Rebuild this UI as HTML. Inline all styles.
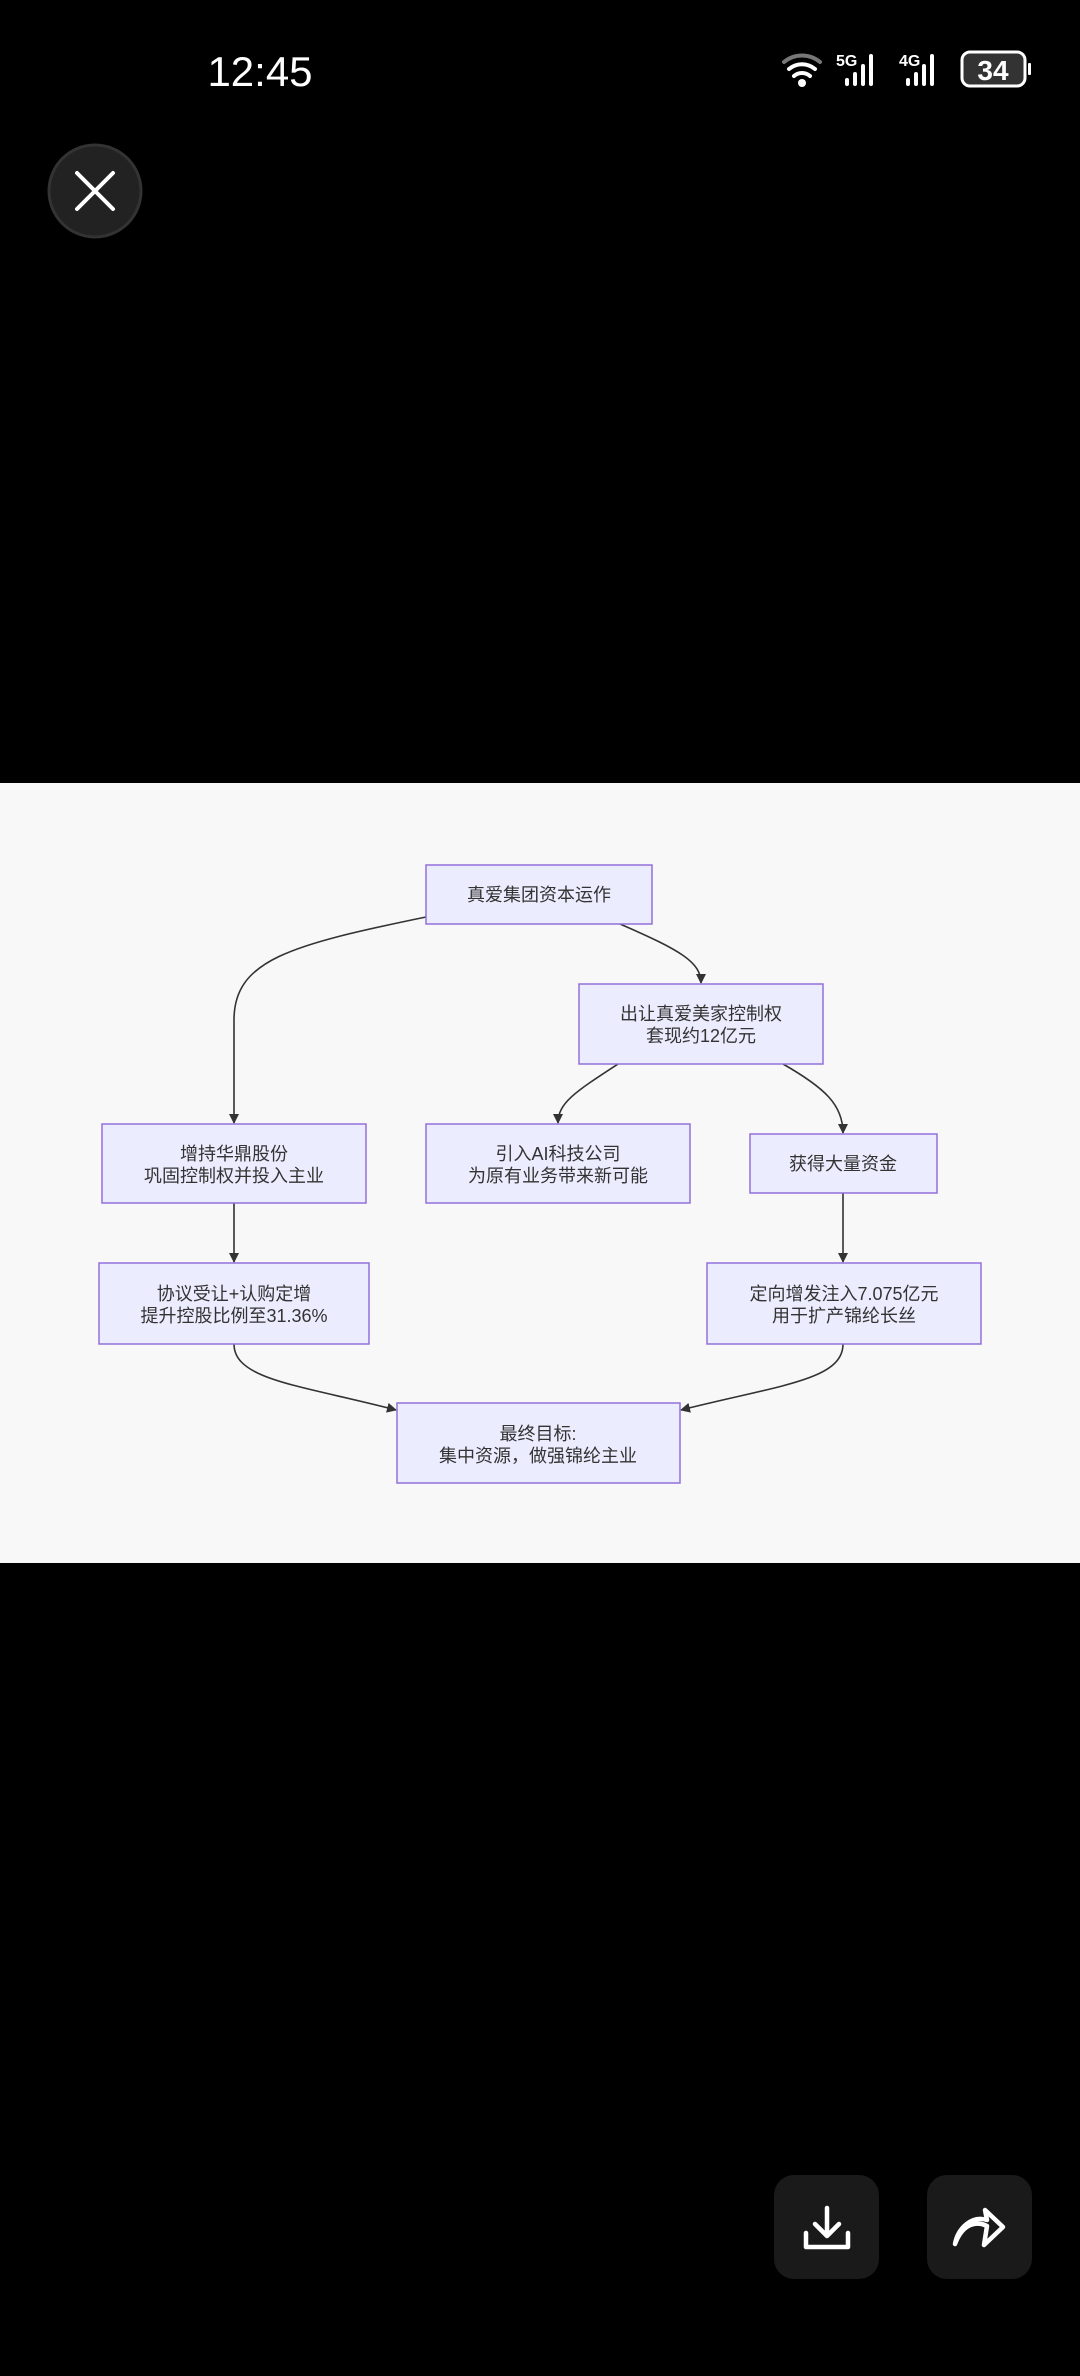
<!DOCTYPE html>
<html><head><meta charset="utf-8">
<style>
html,body{margin:0;padding:0;background:#000;}
body{width:1080px;height:2376px;position:relative;overflow:hidden;font-family:"Liberation Sans","Noto Sans CJK SC",sans-serif;}
svg{position:absolute;left:0;top:0;}
</style></head>
<body>
<svg width="1080" height="2376" viewBox="0 0 1080 2376" xmlns="http://www.w3.org/2000/svg">
<defs>
<marker id="ah" markerWidth="10" markerHeight="10" refX="9" refY="5" orient="auto" markerUnits="userSpaceOnUse">
<path d="M0,0 L10,5 L0,10 z" fill="#333"/>
</marker>
</defs>
<!-- status bar -->
<text x="260" y="86" fill="#fff" font-size="42" text-anchor="middle" font-family="Liberation Sans, sans-serif">12:45</text>
<g fill="none" stroke="#fff" stroke-width="4" stroke-linecap="round">
<path d="M784,62 A28,28 0 0 1 820,62" stroke="#777"/>
<path d="M789,69 A20,20 0 0 1 815,69"/>
<path d="M794,76 A12,12 0 0 1 810,76"/>
</g>
<circle cx="802" cy="83" r="4" fill="#fff"/>
<text x="836" y="66" fill="#fff" font-size="16" font-weight="bold">5G</text>
<g fill="#fff">
<rect x="845" y="78" width="4" height="8" rx="2"/><rect x="853" y="72" width="4" height="14" rx="2"/><rect x="861" y="64" width="4" height="22" rx="2"/><rect x="869" y="54" width="4" height="32" rx="2"/>
</g>
<text x="899" y="66" fill="#fff" font-size="16" font-weight="bold">4G</text>
<g fill="#fff">
<rect x="906" y="78" width="4" height="8" rx="2"/><rect x="914" y="72" width="4" height="14" rx="2"/><rect x="922" y="64" width="4" height="22" rx="2"/><rect x="930" y="54" width="4" height="32" rx="2"/>
</g>
<rect x="962" y="52" width="63" height="34" rx="8" fill="#333" stroke="#fff" stroke-width="3"/>
<rect x="1028" y="63" width="3" height="12" rx="1" fill="#fff"/>
<text x="993" y="80" fill="#fff" font-size="28" font-weight="bold" text-anchor="middle">34</text>
<!-- close button -->
<circle cx="95" cy="191" r="46" fill="#222" stroke="#333" stroke-width="3"/>
<path d="M77,173 L113,209 M113,173 L77,209" stroke="#fff" stroke-width="4" stroke-linecap="round"/>
<!-- diagram bg -->
<rect x="0" y="783" width="1080" height="780" fill="#f8f8f8"/>
<g fill="none" stroke="#333" stroke-width="1.6" marker-end="url(#ah)">
<path d="M426,917 C290,945 234,960 234,1020 L234,1123"/>
<path d="M620,924 C680,950 701,962 701,983"/>
<path d="M618,1064 C575,1092 558,1103 558,1123"/>
<path d="M783,1064 C825,1088 843,1105 843,1133"/>
<path d="M234,1203 L234,1262"/>
<path d="M843,1193 L843,1262"/>
<path d="M234,1344 C234,1380 300,1385 396,1410"/>
<path d="M843,1344 C843,1380 780,1385 681,1410"/>
</g>
<g fill="#ececff" stroke="#9370db" stroke-width="1.5">
<rect x="426" y="865" width="226" height="59"/>
<rect x="579" y="984" width="244" height="80"/>
<rect x="102" y="1124" width="264" height="79"/>
<rect x="426" y="1124" width="264" height="79"/>
<rect x="750" y="1134" width="187" height="59"/>
<rect x="99" y="1263" width="270" height="81"/>
<rect x="707" y="1263" width="274" height="81"/>
<rect x="397" y="1403" width="283" height="80"/>
</g>
<g fill="#333" font-size="18" text-anchor="middle" font-family="Liberation Sans, Noto Sans CJK SC, sans-serif">
<text x="539" y="901">真爱集团资本运作</text>
<text x="701" y="1020">出让真爱美家控制权</text>
<text x="701" y="1042">套现约12亿元</text>
<text x="234" y="1160">增持华鼎股份</text>
<text x="234" y="1182">巩固控制权并投入主业</text>
<text x="558" y="1160">引入AI科技公司</text>
<text x="558" y="1182">为原有业务带来新可能</text>
<text x="843" y="1170">获得大量资金</text>
<text x="234" y="1300">协议受让+认购定增</text>
<text x="234" y="1322">提升控股比例至31.36%</text>
<text x="844" y="1300">定向增发注入7.075亿元</text>
<text x="844" y="1322">用于扩产锦纶长丝</text>
<text x="538" y="1440">最终目标:</text>
<text x="538" y="1462">集中资源，做强锦纶主业</text>
</g>
<!-- bottom buttons -->
<rect x="774" y="2175" width="105" height="104" rx="20" fill="#1a1a1a"/>
<rect x="927" y="2175" width="105" height="104" rx="20" fill="#1a1a1a"/>
<g fill="none" stroke="#fff" stroke-width="4.5" stroke-linecap="round" stroke-linejoin="round">
<path d="M827,2208 L827,2235 M815,2224 L827,2236 L839,2224"/>
<path d="M806,2233 L806,2247 L848,2247 L848,2233"/>
<path d="M955,2244 C962,2225 975,2220 987,2226 L984,2245 L1003,2227 L985,2210 L987,2220 C972,2215 958,2228 955,2244 z"/>
</g>
</svg>
</body></html>
